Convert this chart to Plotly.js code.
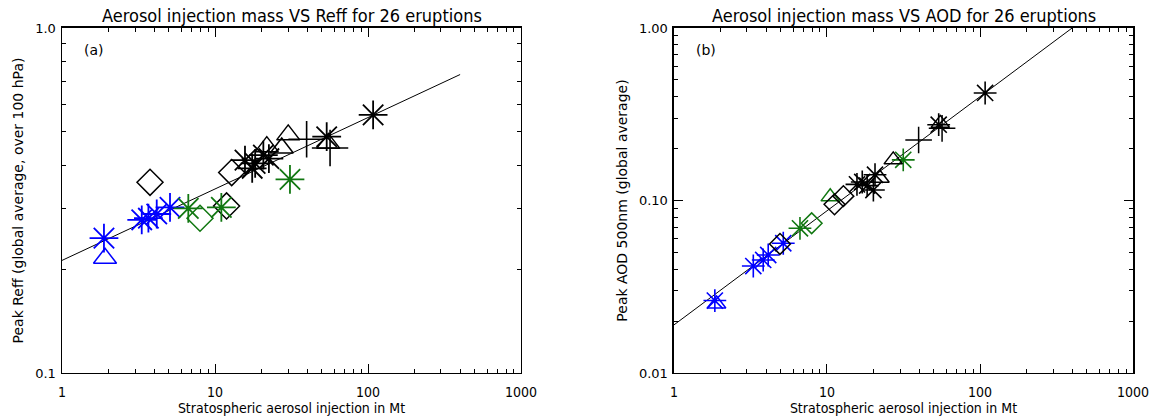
<!DOCTYPE html>
<html>
<head>
<meta charset="utf-8">
<script src="https://cdn.plot.ly/plotly-3.0.1.min.js"></script>
<style>
html,body{margin:0;padding:0;background:#fff;}
#chart{width:1157px;height:419px;}
</style>
</head>
<body>
<div id="chart"></div>
<script>
// ---------- Panel (a): injection mass (Mt) vs peak Reff ----------
const reffBlueStarX  = [1.88, 3.32, 3.67, 4.16, 5.08];
const reffBlueStarY  = [0.246, 0.278, 0.281, 0.289, 0.302];
const reffBlueTriX   = [1.91];
const reffBlueTriY   = [0.215];
const reffGreenStarX = [6.69, 11.0, 30.9];
const reffGreenStarY = [0.300, 0.302, 0.364];
const reffGreenDiaX  = [7.98];
const reffGreenDiaY  = [0.281];
const reffBlackDiaX  = [3.76, 11.9, 12.85];
const reffBlackDiaY  = [0.357, 0.305, 0.381];
const reffBlackStarX = [15.7, 17.5, 18.3, 20.7, 22.5, 53.7, 108];
const reffBlackStarY = [0.414, 0.392, 0.405, 0.428, 0.418, 0.484, 0.560];
const reffBlackTriX  = [21.8, 27.3, 30.1, 55];
const reffBlackTriY  = [0.453, 0.449, 0.490, 0.463];
const reffBlackPlusX = [39.7, 56.5];
const reffBlackPlusY = [0.476, 0.449];
const reffFitX = [1, 400];
const reffFitY = [0.212, 0.733];

// ---------- Panel (b): injection mass (Mt) vs peak AOD 500nm ----------
const aodBlueStarX  = [1.85, 3.30, 3.83, 4.13, 5.18];
const aodBlueStarY  = [0.0263, 0.0417, 0.0452, 0.0483, 0.0565];
const aodBlueTriX   = [1.90];
const aodBlueTriY   = [0.0251];
const aodGreenStarX = [6.66, 31.5];
const aodGreenStarY = [0.069, 0.172];
const aodGreenDiaX  = [7.94];
const aodGreenDiaY  = [0.0738];
const aodGreenTriX  = [10.5];
const aodGreenTriY  = [0.105];
const aodBlackDiaX  = [4.93, 11.2, 12.8];
const aodBlackDiaY  = [0.056, 0.095, 0.106];
const aodBlackStarX = [15.7, 17.0, 18.3, 20.1, 20.6, 53.7, 108];
const aodBlackStarY = [0.124, 0.128, 0.122, 0.115, 0.141, 0.275, 0.420];
const aodBlackTriX  = [22.2, 27.1, 55];
const aodBlackTriY  = [0.1345, 0.172, 0.28];
const aodBlackPlusX = [39.7, 56.5];
const aodBlackPlusY = [0.224, 0.262];
const aodFitX = [1, 400];
const aodFitY = [0.019, 1.0];

// ---------- Tick labels ----------
const xTickVals = [1, 10, 100, 1000];
const xTickText = ['1', '10', '100', '1000'];
const reffTickVals = [0.1, 1.0];
const reffTickText = ['0.1', '1.0'];
const aodTickVals = [0.01, 0.1, 1.0];
const aodTickText = ['0.01', '0.10', '1.00'];
const xMinorVals = [2,3,4,5,6,7,8,9,20,30,40,50,60,70,80,90,200,300,400,500,600,700,800,900];
const reffMinorVals = [0.2,0.3,0.4,0.5,0.6,0.7,0.8,0.9];
const aodMinorVals = [0.02,0.03,0.04,0.05,0.06,0.07,0.08,0.09,0.2,0.3,0.4,0.5,0.6,0.7,0.8,0.9];

const BLUE = '#0000ff', GREEN = '#117711', BLACK = '#000000';
const COND = '"DejaVu Sans Condensed", "Liberation Sans Narrow", "DejaVu Sans", sans-serif';
const SANS = '"DejaVu Sans", "Liberation Sans", sans-serif';

function pts(x, y, sym, color, size, xa, ya, lw) {
  return {x: x, y: y, xaxis: xa, yaxis: ya, type: 'scatter', mode: 'markers',
    hoverinfo: 'skip', showlegend: false,
    marker: {symbol: sym, size: size, color: color, line: {color: color, width: lw || 1.5}}};
}
function fit(x, y, xa, ya) {
  return {x: x, y: y, xaxis: xa, yaxis: ya, type: 'scatter', mode: 'lines',
    hoverinfo: 'skip', showlegend: false, line: {color: '#000', width: 1}};
}

const SA = 20, SB = 16;
const data = [
  fit(reffFitX, reffFitY, 'x', 'y'),
  pts(reffBlueTriX, reffBlueTriY, 'triangle-up-open', BLUE, SA, 'x', 'y'),
  pts(reffBlueStarX, reffBlueStarY, 'asterisk-open', BLUE, SA + 4, 'x', 'y', 1.8),
  pts(reffGreenDiaX, reffGreenDiaY, 'diamond-open', GREEN, SA, 'x', 'y'),
  pts(reffBlackDiaX, reffBlackDiaY, 'diamond-open', BLACK, SA, 'x', 'y'),
  pts(reffGreenStarX, reffGreenStarY, 'asterisk-open', GREEN, SA + 4, 'x', 'y', 1.8),
  pts(reffBlackTriX, reffBlackTriY, 'triangle-up-open', BLACK, SA, 'x', 'y'),
  pts(reffBlackStarX, reffBlackStarY, 'asterisk-open', BLACK, SA + 4, 'x', 'y', 1.8),
  pts(reffBlackPlusX, reffBlackPlusY, 'cross-thin-open', BLACK, SA + 6, 'x', 'y', 1.6),

  fit(aodFitX, aodFitY, 'x2', 'y2'),
  pts(aodBlueTriX, aodBlueTriY, 'triangle-up-open', BLUE, SB, 'x2', 'y2'),
  pts(aodBlueStarX, aodBlueStarY, 'asterisk-open', BLUE, SB + 3, 'x2', 'y2', 1.6),
  pts(aodGreenDiaX, aodGreenDiaY, 'diamond-open', GREEN, SB, 'x2', 'y2'),
  pts(aodGreenTriX, aodGreenTriY, 'triangle-up-open', GREEN, SB, 'x2', 'y2'),
  pts(aodBlackDiaX, aodBlackDiaY, 'diamond-open', BLACK, SB, 'x2', 'y2'),
  pts(aodGreenStarX, aodGreenStarY, 'asterisk-open', GREEN, SB + 3, 'x2', 'y2', 1.6),
  pts(aodBlackTriX, aodBlackTriY, 'triangle-up-open', BLACK, SB, 'x2', 'y2'),
  pts(aodBlackStarX, aodBlackStarY, 'asterisk-open', BLACK, SB + 3, 'x2', 'y2', 1.6),
  pts(aodBlackPlusX, aodBlackPlusY, 'cross-thin-open', BLACK, SB + 3, 'x2', 'y2', 1.5)
];

function xAxis(domain, anchor) {
  return {type: 'log', range: [0, 3], domain: domain, anchor: anchor,
    showgrid: false, zeroline: false, showline: true, linecolor: '#000', linewidth: 1.5,
    mirror: 'allticks', ticks: 'inside', ticklen: 9, tickwidth: 1, tickcolor: '#000',
    tickmode: 'array', tickvals: xTickVals, ticktext: xTickText,
    tickfont: {family: COND, size: 14, color: '#000'}, ticklabelstandoff: 6,
    minor: {ticks: 'inside', ticklen: 4, tickwidth: 1, tickcolor: '#000', tickmode: 'array', tickvals: xMinorVals, showgrid: false},
    title: {text: 'Stratospheric aerosol injection in Mt', font: {family: COND, size: 14, color: '#000'}, standoff: 4}};
}
function yAxis(range, tv, tt, mv, title, anchor) {
  return {type: 'log', range: range, domain: [0.1098, 0.9332], anchor: anchor,
    showgrid: false, zeroline: false, showline: true, linecolor: '#000', linewidth: 1.5,
    mirror: 'allticks', ticks: 'inside', ticklen: 9, tickwidth: 1, tickcolor: '#000',
    tickmode: 'array', tickvals: tv, ticktext: tt,
    tickfont: {family: SANS, size: 13, color: '#000'}, ticklabelstandoff: 2,
    minor: {ticks: 'inside', ticklen: 4, tickwidth: 1, tickcolor: '#000', tickmode: 'array', tickvals: mv, showgrid: false},
    title: {text: title, font: {family: SANS, size: 14, color: '#000'}, standoff: 8}};
}

const layout = {
  width: 1157, height: 419,
  margin: {l: 0, r: 0, t: 0, b: 0},
  paper_bgcolor: '#fff', plot_bgcolor: '#fff',
  xaxis: xAxis([0.0536, 0.4503], 'y'),
  yaxis: yAxis([-1, 0], reffTickVals, reffTickText, reffMinorVals, 'Peak Reff (global average, over 100 hPa)', 'x'),
  xaxis2: xAxis([0.5825, 0.9793], 'y2'),
  yaxis2: yAxis([-2, 0], aodTickVals, aodTickText, aodMinorVals, 'Peak AOD 500nm (global average)', 'x2'),
  annotations: [
    {text: 'Aerosol injection mass VS Reff for 26 eruptions', xref: 'paper', yref: 'paper',
     x: 0.252, y: 1, yshift: -3, xanchor: 'center', yanchor: 'top', showarrow: false,
     font: {family: COND, size: 18, color: '#000'}},
    {text: 'Aerosol injection mass VS AOD for 26 eruptions', xref: 'paper', yref: 'paper',
     x: 0.781, y: 1, yshift: -3, xanchor: 'center', yanchor: 'top', showarrow: false,
     font: {family: COND, size: 18, color: '#000'}},
    {text: '(a)', xref: 'x domain', yref: 'y domain', x: 0, y: 1, xshift: 20, yshift: -12,
     xanchor: 'left', yanchor: 'top', showarrow: false, font: {family: SANS, size: 14, color: '#000'}},
    {text: '(b)', xref: 'x2 domain', yref: 'y2 domain', x: 0, y: 1, xshift: 20, yshift: -12,
     xanchor: 'left', yanchor: 'top', showarrow: false, font: {family: SANS, size: 14, color: '#000'}}
  ]
};

Plotly.newPlot('chart', data, layout, {displayModeBar: false, staticPlot: true});
</script>
</body>
</html>
